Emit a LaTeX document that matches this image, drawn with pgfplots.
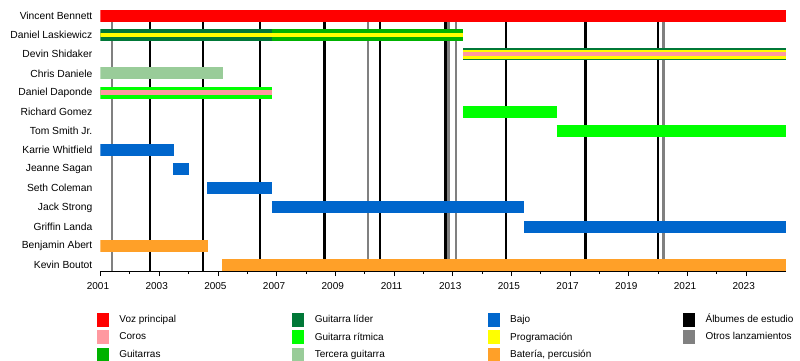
\documentclass[border=0pt]{standalone}
\usepackage{pgfplots}
\pgfplotsset{compat=1.18}
\usepackage{fontspec}
\setmainfont{Liberation Sans}
\definecolor{cvoz}{RGB}{255,0,0}
\definecolor{ccoros}{RGB}{255,153,160}
\definecolor{cguit}{RGB}{0,178,0}
\definecolor{clider}{RGB}{0,120,55}
\definecolor{critmo}{RGB}{0,255,0}
\definecolor{ctercera}{RGB}{153,204,153}
\definecolor{cbajo}{RGB}{0,102,204}
\definecolor{cprog}{RGB}{255,255,0}
\definecolor{cbat}{RGB}{255,160,40}
\definecolor{calb}{RGB}{0,0,0}
\definecolor{cotros}{RGB}{128,128,128}
\pgfplotsset{
  vl/.style={line width=2.5pt, forget plot},
  br/.style={line width=12pt, forget plot},
}
\begin{document}
\begin{tikzpicture}
\useasboundingbox (0,0) rectangle (800pt,360pt);
\begin{axis}[
  at={(100.5pt,89pt)}, anchor=south west,
  scale only axis, width=685.5pt, height=261pt,
  xmin=2001, xmax=2024.356, ymin=-0.313, ymax=13.32, y dir=reverse,
  axis x line*=bottom, axis y line*=left,
  y axis line style={draw=none},
  x axis line style={line width=0.8pt},
  xtick={2001,2003,...,2023}, minor x tick num=1,
  xtick align=outside, major tick length=5pt, minor tick length=3pt,
  xtick style={line width=0.8pt, black},
  /pgf/number format/assume math mode=true,
  /pgf/number format/1000 sep={},
  xticklabel style={inner sep=0pt, yshift=-6pt, xshift=-2.5pt},
  ytick={0,...,13},
  yticklabels={Vincent Bennett, Daniel Laskiewicz, Devin Shidaker, Chris Daniele, Daniel Daponde, Richard Gomez, Tom Smith Jr., Karrie Whitfield, Jeanne Sagan, Seth Coleman, Jack Strong, Griffin Landa, Benjamin Abert, Kevin Boutot},
  ytick style={draw=none},
  yticklabel style={inner sep=0pt, xshift=-8pt, font=\fontsize{10.3pt}{12pt}\selectfont},
  legend style={at={(-0.0051,-0.159)}, anchor=north west, draw=none, fill=none,
    inner sep=0pt, outer sep=0pt, row sep=4.5pt, column sep=0pt,
    nodes={inner sep=0pt, anchor=west},
    /tikz/every odd column/.append style={column sep=11pt}},
  legend columns=4,
  legend cell align=left,
  legend image code/.code={\fill[#1] (0pt,-6.5pt) rectangle (11pt,6.5pt);},
]
% vertical lines: studio albums (black)
\addplot[calb, vl] coordinates {(2002.68,-0.313) (2002.68,13.32)};
\addplot[calb, vl] coordinates {(2004.50,-0.313) (2004.50,13.32)};
\addplot[calb, vl] coordinates {(2006.43,-0.313) (2006.43,13.32)};
\addplot[calb, vl] coordinates {(2008.63,-0.313) (2008.63,13.32)};
\addplot[calb, vl] coordinates {(2010.52,-0.313) (2010.52,13.32)};
\addplot[calb, vl] coordinates {(2012.76,-0.313) (2012.76,13.32)};
\addplot[calb, vl] coordinates {(2014.81,-0.313) (2014.81,13.32)};
\addplot[calb, vl] coordinates {(2017.52,-0.313) (2017.52,13.32)};
\addplot[calb, vl] coordinates {(2020.00,-0.313) (2020.00,13.32)};
% other releases (gray)
\addplot[cotros, vl] coordinates {(2001.40,-0.313) (2001.40,13.32)};
\addplot[cotros, vl] coordinates {(2010.12,-0.313) (2010.12,13.32)};
\addplot[cotros, vl] coordinates {(2012.85,-0.313) (2012.85,13.32)};
\addplot[cotros, vl] coordinates {(2013.11,-0.313) (2013.11,13.32)};
\addplot[cotros, vl] coordinates {(2020.18,-0.313) (2020.18,13.32)};
% bars
\addplot[cvoz, br] coordinates {(2001,0) (2024.356,0)};
\addplot[clider, br] coordinates {(2001,1) (2006.83,1)};
\addplot[cguit, br] coordinates {(2006.83,1) (2013.36,1)};
\addplot[cprog, line width=4.5pt, forget plot] coordinates {(2001,1) (2013.36,1)};
\addplot[clider, br] coordinates {(2013.36,2) (2024.356,2)};
\addplot[cprog, line width=8.5pt, forget plot] coordinates {(2013.36,2) (2024.356,2)};
\addplot[ccoros, line width=4pt, forget plot] coordinates {(2013.36,2) (2024.356,2)};
\addplot[ctercera, br] coordinates {(2001,3) (2005.16,3)};
\addplot[critmo, br] coordinates {(2001,4) (2006.83,4)};
\addplot[ccoros, line width=4.5pt, forget plot] coordinates {(2001,4) (2006.83,4)};
\addplot[critmo, br] coordinates {(2013.36,5) (2016.54,5)};
\addplot[critmo, br] coordinates {(2016.54,6) (2024.356,6)};
\addplot[cbajo, br] coordinates {(2001,7) (2003.50,7)};
\addplot[cbajo, br] coordinates {(2003.47,8) (2004.02,8)};
\addplot[cbajo, br] coordinates {(2004.63,9) (2006.84,9)};
\addplot[cbajo, br] coordinates {(2006.84,10) (2015.43,10)};
\addplot[cbajo, br] coordinates {(2015.43,11) (2024.356,11)};
\addplot[cbat, br] coordinates {(2001,12) (2004.66,12)};
\addplot[cbat, br] coordinates {(2005.14,13) (2024.356,13)};
% legend (row-major, 4 columns)
\addlegendimage{cvoz}\addlegendentry{\makebox[173pt][l]{Voz principal}}
\addlegendimage{clider}\addlegendentry{\makebox[173pt][l]{Guitarra líder}}
\addlegendimage{cbajo}\addlegendentry{\makebox[173pt][l]{Bajo}}
\addlegendimage{calb}\addlegendentry{\makebox[173pt][l]{Álbumes de estudio}}
\addlegendimage{ccoros}\addlegendentry{\makebox[173pt][l]{Coros}}
\addlegendimage{critmo}\addlegendentry{\makebox[173pt][l]{Guitarra rítmica}}
\addlegendimage{cprog}\addlegendentry{\makebox[173pt][l]{Programación}}
\addlegendimage{cotros}\addlegendentry{\makebox[173pt][l]{Otros lanzamientos}}
\addlegendimage{cguit}\addlegendentry{\makebox[173pt][l]{Guitarras}}
\addlegendimage{ctercera}\addlegendentry{\makebox[173pt][l]{Tercera guitarra}}
\addlegendimage{cbat}\addlegendentry{\makebox[173pt][l]{Batería, percusión}}
\end{axis}
\end{tikzpicture}
\end{document}
